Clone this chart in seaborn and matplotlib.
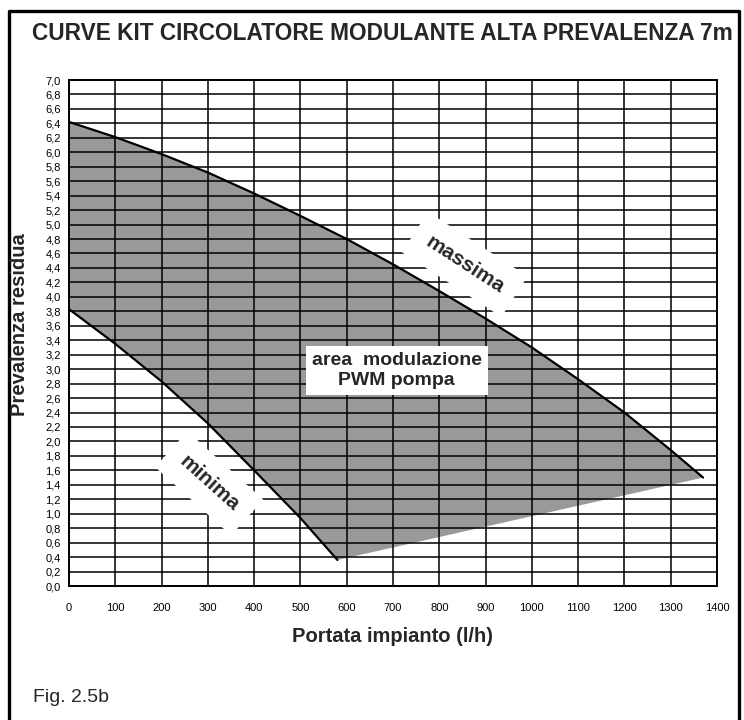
import matplotlib
matplotlib.use("Agg")
import matplotlib.pyplot as plt
from matplotlib.lines import Line2D
import seaborn as sns

# curve data
massima_q = [0, 100, 200, 300, 400, 500, 600, 700, 800, 900, 1000, 1100, 1200, 1300, 1370]
massima_h = [6.42, 6.21, 5.975, 5.72, 5.43, 5.12, 4.80, 4.45, 4.08, 3.70, 3.30, 2.86, 2.40, 1.88, 1.50]

minima_q = [0, 100, 200, 300, 400, 500, 580]
minima_h = [3.83, 3.35, 2.83, 2.25, 1.60, 0.94, 0.36]

x_ticks = list(range(0, 1401, 100))
y_ticks = [i / 5 for i in range(0, 36)]
y_labels = [f"{v:.1f}".replace(".", ",") for v in y_ticks]

sns.set_theme(style="white")
plt.rcParams['font.family'] = ['Liberation Sans', 'DejaVu Sans']

fig = plt.figure(figsize=(7.44, 7.2), dpi=100)
ax = fig.add_axes([69 / 744, 134 / 720, 648 / 744, 506 / 720])

# grey area between the two curves
poly_q = massima_q + minima_q[::-1]
poly_h = massima_h + minima_h[::-1]
ax.fill(poly_q, poly_h, color='#999999', lw=0, zorder=1)

# grid on top of the fill
for xt in x_ticks:
    ax.axvline(xt, color='black', lw=1.1, zorder=2)
for yt in y_ticks:
    ax.axhline(yt, color='black', lw=1.1, zorder=2)

sns.lineplot(x=massima_q, y=massima_h, color='black', lw=1.6, sort=False, ax=ax, zorder=3)
sns.lineplot(x=minima_q, y=minima_h, color='black', lw=1.6, sort=False, ax=ax, zorder=3)

ax.set_xlim(0, 1400)
ax.set_ylim(0, 7)
ax.set_xticks(x_ticks)
ax.set_xticklabels([str(v) for v in x_ticks], fontsize=8)
ax.set_yticks(y_ticks)
ax.set_yticklabels(y_labels, fontsize=8)
ax.tick_params(axis='both', direction='out', length=4, width=1, color='black', pad=2, labelcolor='black')
ax.tick_params(axis='x', pad=8)
for s in ax.spines.values():
    s.set_color('black')
    s.set_linewidth(1.4)

box = dict(boxstyle='square,pad=0.7', fc='white', ec='none')
ax.text(855, 4.45, "massima", rotation=-33, ha='center', va='center', fontsize=15,
        fontweight='bold', bbox=box, zorder=5)
ax.text(303, 1.42, "minima", rotation=-42, ha='center', va='center', fontsize=15,
        fontweight='bold', bbox=box, zorder=5)
ax.text(708, 2.98, "area  modulazione\nPWM pompa", ha='center', va='center', fontsize=14,
        fontweight='bold', linespacing=1.2,
        bbox=dict(boxstyle='square,pad=0.3', fc='white', ec='none'), zorder=5)

fig.text(393 / 744, 1 - 637 / 720, "Portata impianto (l/h)", ha='center', va='center',
         fontsize=14.5, fontweight='bold')
fig.text(20 / 744, 1 - 325 / 720, "Prevalenza residua", rotation=90, ha='center', va='center',
         fontsize=14.5, fontweight='bold')

fig.text(382 / 744, 1 - 33 / 720, "CURVE KIT CIRCOLATORE MODULANTE ALTA PREVALENZA 7m",
         ha='center', va='center', fontsize=16.3, fontweight='bold')
fig.text(33 / 744, 1 - 697 / 720, "Fig. 2.5b", ha='left', va='center', fontsize=14)

# outer frame (open at the bottom)
fx = [9 / 744, 9 / 744, 739 / 744, 739 / 744]
fy = [0, 1 - 11 / 720, 1 - 11 / 720, 0]
fig.add_artist(Line2D(fx, fy, color='black', lw=2.4, transform=fig.transFigure))

fig.savefig("out.png", dpi=100)
